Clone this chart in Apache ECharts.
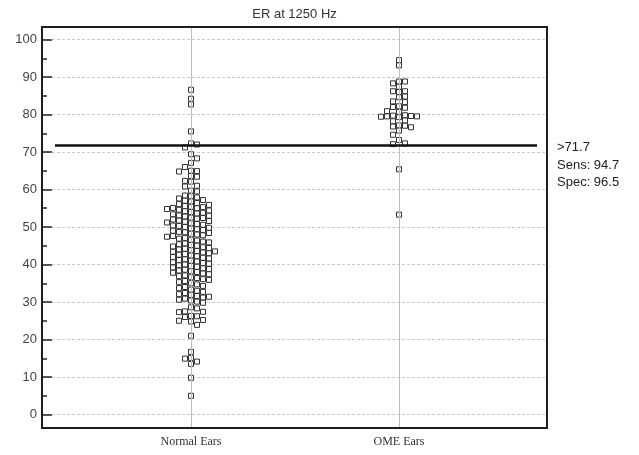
<!DOCTYPE html>
<html><head><meta charset="utf-8">
<script src="https://cdn.jsdelivr.net/npm/echarts@6/dist/echarts.min.js"></script>
<style>html,body{margin:0;padding:0;background:#fff}#c{width:639px;height:455px}</style>
</head><body><div id="c"></div>
<script>
const chartTitle = 'ER at 1250 Hz';
const categories = ['Normal Ears', 'OME Ears'];
const normalEars = [
  86.6, 84.2, 82.7, 75.5, 72.3, 72.0,
  71.2, 69.4, 68.3, 67.1, 66.0, 65.0, 64.9, 64.8,
  63.6, 63.4, 62.3, 62.1, 61.0, 60.8, 59.7, 59.5, 58.4, 58.2, 57.9, 57.6,
  57.2, 57.0, 56.8,
  56.4, 56.1, 55.9, 55.6,
  55.4, 55.3, 55.1, 55.0, 54.8, 54.6,
  54.4, 54.2, 54.0, 53.8, 53.6,
  53.4, 53.1, 53.0, 52.8, 52.5,
  52.4, 52.2, 52.0, 51.7, 51.6,
  51.4, 51.2, 51.0, 50.8, 50.6,
  50.4, 50.3, 50.0, 49.8, 49.6,
  49.4, 49.2, 49.0, 48.7, 48.6,
  48.4, 48.2, 48.0, 47.8, 47.6,
  47.4, 47.1, 46.9, 46.6,
  46.4, 46.1, 45.9, 45.6,
  45.4, 45.2, 45.0, 44.8, 44.6,
  44.4, 44.2, 44.0, 43.8, 43.6,
  43.5, 43.4, 43.2, 43.0, 42.8, 42.6,
  42.4, 42.2, 42.0, 41.8, 41.6,
  41.4, 41.2, 41.0, 40.8, 40.6,
  40.4, 40.2, 40.0, 39.8, 39.6,
  39.4, 39.2, 39.0, 38.8, 38.6,
  38.4, 38.2, 38.0, 37.8, 37.6,
  37.4, 37.1, 36.9, 36.6,
  36.4, 36.1, 35.9, 35.6,
  35.3, 35.0, 34.7,
  34.3, 34.0, 33.7,
  33.3, 33.0, 32.7,
  32.4, 32.1, 31.9, 31.6,
  31.4, 31.2, 30.9, 30.6,
  30.4, 30.1, 29.8,
  28.6, 28.3, 27.5, 27.4, 27.3, 26.3, 26.2, 26.0, 25.2, 25.0, 24.8,
  23.9, 21.0,
  16.7, 15.1, 14.9, 14.1, 13.5,
  9.8, 5.0
];
const omeEars = [
  94.5, 93.1,
  88.8, 88.8, 88.3,
  87.4,
  86.2, 86.2, 86.0,
  84.8, 84.6,
  83.5, 83.3,
  82.2, 82.0, 81.8,
  80.9, 80.7,
  79.8, 79.7, 79.6, 79.5, 79.5, 79.4, 79.3,
  78.4, 78.2,
  77.1, 77.0, 76.8, 76.6,
  75.7,
  74.6,
  73.2, 72.3, 72.1,
  65.4, 53.3
];
const yTickValues = [0, 10, 20, 30, 40, 50, 60, 70, 80, 90, 100];
const cutoff = 71.7;
const annotationLines = ['>71.7', 'Sens: 94.7', 'Spec: 96.5'];

// ---- layout (pixels) ----
const box = { left: 42, top: 27, right: 547, bottom: 428 };
const y0px = 414.5, y100px = 39.5;
const pxPerUnitY = (y0px - y100px) / 100;
const yMin = -(box.bottom - y0px) / pxPerUnitY;
const yMax = 100 + (y100px - box.top) / pxPerUnitY;
const catPx = [191, 399];
const pxPerUnitX = catPx[1] - catPx[0];
const xMin = -(catPx[0] - box.left) / pxPerUnitX;
const xMax = 1 + (box.right - catPx[1]) / pxPerUnitX;

const SYM = 5, GAP = 5, STEP = 6;
function swarm(values, catIndex) {
  const order = values.map((v, i) => i).sort((a, b) => values[b] - values[a]);
  const placed = [];
  const out = [];
  let toggle = 1;
  const free = (k, py) => !placed.some(p => p.k === k && Math.abs(p.py - py) < GAP);
  for (const i of order) {
    const py = values[i] * pxPerUnitY;
    let k = null;
    for (let d = 0; k === null; d++) {
      if (d === 0) { if (free(0, py)) k = 0; continue; }
      const a = free(d * toggle, py), b = free(-d * toggle, py);
      if (a) k = d * toggle; else if (b) k = -d * toggle;
    }
    if (k !== 0) toggle = -toggle;
    placed.push({ k, py });
    out.push([catIndex + k * STEP / pxPerUnitX, values[i]]);
  }
  return out;
}

const chart = echarts.init(document.getElementById('c'), null, { renderer: 'canvas' });
const pointStyle = { color: '#ffffff', borderColor: '#333333', borderWidth: 1, opacity: 1 };

chart.setOption({
  animation: false,
  backgroundColor: '#ffffff',
  grid: [
    { left: box.left, top: box.top, width: box.right - box.left, height: box.bottom - box.top },
    { left: box.left, top: y100px, width: box.right - box.left, height: y0px - y100px }
  ],
  xAxis: [
    {
      gridIndex: 0, type: 'value', min: xMin, max: xMax,
      axisLine: { show: false }, axisTick: { show: false }, splitLine: { show: false },
      axisLabel: {
        customValues: [0, 1],
        formatter: v => categories[Math.round(v)],
        fontFamily: 'Liberation Serif, Times New Roman, serif',
        fontSize: 12, color: '#333', margin: 8
      }
    },
    { gridIndex: 1, type: 'value', min: 0, max: 1, show: false }
  ],
  yAxis: [
    { gridIndex: 0, type: 'value', min: yMin, max: yMax, show: false },
    {
      gridIndex: 1, type: 'value', min: yTickValues[0], max: yTickValues[yTickValues.length - 1],
      interval: yTickValues[1] - yTickValues[0],
      axisLine: { show: false },
      axisTick: { show: true, inside: true, length: 10, lineStyle: { color: '#222', width: 1.5 } },
      minorTick: { show: true, splitNumber: 2, length: 5, lineStyle: { color: '#222', width: 1.5 } },
      splitLine: { show: true, lineStyle: { color: '#c9c9c9', type: [3, 2], width: 1 } },
      axisLabel: { fontFamily: 'Liberation Sans, Arial, sans-serif', fontSize: 13, color: '#444', margin: 5 }
    }
  ],
  series: [
    {
      type: 'scatter', xAxisIndex: 0, yAxisIndex: 0, data: [], z: 1,
      markLine: {
        silent: true, symbol: 'none', label: { show: false },
        lineStyle: { color: '#bdbdbd', type: 'solid', width: 1 },
        data: [{ xAxis: 0 }, { xAxis: 1 }]
      }
    },
    {
      type: 'scatter', xAxisIndex: 0, yAxisIndex: 0, data: [], z: 2,
      markLine: {
        silent: true, symbol: 'none', label: { show: false },
        lineStyle: { color: '#111', type: 'solid', width: 2.5 },
        data: [[
          { coord: [xMin + 13 / pxPerUnitX, cutoff] },
          { coord: [xMax - 10 / pxPerUnitX, cutoff] }
        ]]
      }
    },
    {
      name: categories[0], type: 'scatter', xAxisIndex: 0, yAxisIndex: 0, z: 3,
      symbol: 'rect', symbolSize: SYM, itemStyle: pointStyle,
      data: swarm(normalEars, 0)
    },
    {
      name: categories[1], type: 'scatter', xAxisIndex: 0, yAxisIndex: 0, z: 3,
      symbol: 'rect', symbolSize: SYM, itemStyle: pointStyle,
      data: swarm(omeEars, 1)
    }
  ],
  graphic: [
    {
      type: 'rect', z: 100, silent: true,
      shape: { x: box.left, y: box.top, width: box.right - box.left, height: box.bottom - box.top },
      style: { fill: 'none', stroke: '#1e1e1e', lineWidth: 2 }
    },
    {
      type: 'text', z: 100, x: (box.left + box.right) / 2, y: 14,
      style: { text: chartTitle, textAlign: 'center', textVerticalAlign: 'middle',
        font: '13px "Liberation Sans", Arial, sans-serif', fill: '#333' }
    },
    {
      type: 'text', z: 100, x: 557, y: 139,
      style: { text: annotationLines.join('\n'), textAlign: 'left', textVerticalAlign: 'top',
        font: '13px "Liberation Sans", Arial, sans-serif', lineHeight: 17.5, fill: '#222' }
    }
  ]
});
</script>
</body></html>
